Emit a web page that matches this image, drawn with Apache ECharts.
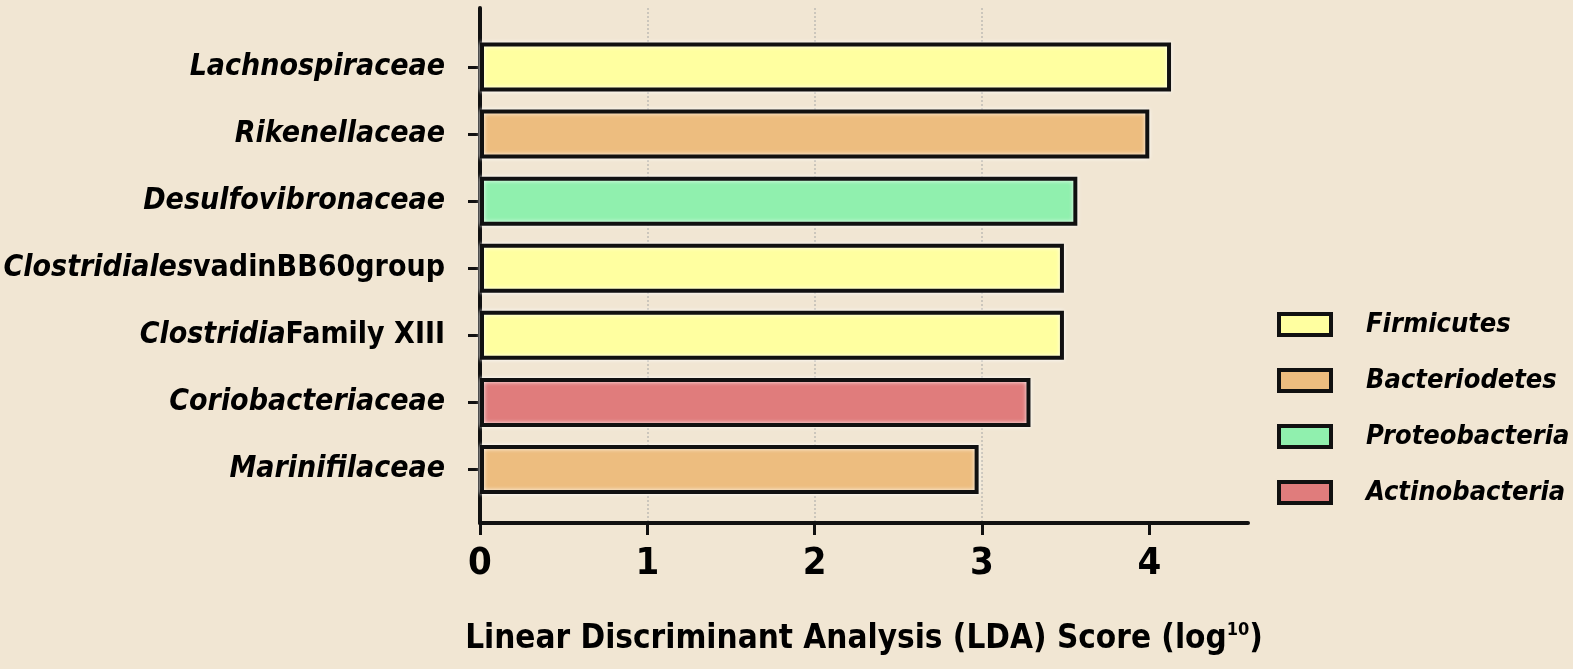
<!DOCTYPE html>
<html>
<head>
<meta charset="UTF-8"/>
<script type="text/javascript" src="https://cdn.jsdelivr.net/npm/echarts@6/dist/echarts.min.js"></script>
<style>
  html, body { margin: 0; padding: 0; background: #f1e6d3; }
  #main { width: 1573px; height: 669px; }
</style>
</head>
<body>
<div id="main"></div>
<script type="text/javascript">
// families, top to bottom
var families = ['Lachnospiraceae', 'Rikenellaceae', 'Desulfovibronaceae',
    'Clostridiales vadinBB60group', 'Clostridia Family XIII', 'Coriobacteriaceae', 'Marinifilaceae'];
// LDA score (log10) per family
var ldaScores = [4.13, 4.0, 3.57, 3.49, 3.49, 3.29, 2.98];
// phylum of each family
var familyPhylum = ['Firmicutes', 'Bacteriodetes', 'Proteobacteria', 'Firmicutes', 'Firmicutes',
    'Actinobacteria', 'Bacteriodetes'];
var phyla = ['Firmicutes', 'Bacteriodetes', 'Proteobacteria', 'Actinobacteria'];
var phylumColors = ['#ffffa0', '#edbd7f', '#90f0ae', '#e07c7c'];
var xTicks = [0, 1, 2, 3, 4];

var FONT = "'Liberation Sans Narrow', 'DejaVu Sans Condensed', sans-serif";

var myChart = echarts.init(document.getElementById('main'));

// one series per phylum so the legend has an entry for each
var series = phyla.map(function (p, k) {
    return {
        name: p,
        type: 'bar',
        stack: 'lda',
        xAxisIndex: 0,
        yAxisIndex: 0,
        barWidth: 49,
        data: ldaScores.map(function (v, i) { return familyPhylum[i] === p ? v : null }),
        itemStyle: {
            color: phylumColors[k],
            borderColor: '#111',
            borderWidth: 4,
            shadowColor: 'rgba(255,255,255,0.9)',
            shadowBlur: 4
        },
        emphasis: { disabled: true }
    }
})

function familyLabel(v) {
    // genus-level part in italics, descriptor upright
    if (v === 'Clostridiales vadinBB60group') return '{i|Clostridiales}{n|vadinBB60group}';
    if (v === 'Clostridia Family XIII') return '{i|Clostridia}{n|Family XIII}';
    return '{i|' + v + '}';
}

var option = {
    backgroundColor: '#f1e6d3',
    animation: false,
    legend: {
        orient: 'vertical',
        left: 1272,
        top: 306,
        itemWidth: 52,
        itemHeight: 21,
        itemGap: 29,
        icon: 'rect',
        data: phyla,
        selectedMode: false,
        itemStyle: { borderColor: '#111', borderWidth: 4 },
        textStyle: {
            fontFamily: FONT, fontSize: 27, fontStyle: 'italic', fontWeight: 'bold',
            color: '#000', lineHeight: 21, padding: [0, 0, 0, 30]
        }
    },
    grid: [
        { left: 480, right: 325, top: 33.5, bottom: 166, outerBoundsMode: 'none' },
        { left: 480, right: 325, top: 8, bottom: 146, outerBoundsMode: 'none' }
    ],
    xAxis: [
        { type: 'value', gridIndex: 0, min: 0, max: 4.59, show: false },
        {
            type: 'value', gridIndex: 1, min: 0, max: 4.59, interval: 1,
            axisLine: { show: true, lineStyle: { color: '#111', width: 4 } },
            axisTick: { show: true, length: 12, customValues: xTicks, lineStyle: { color: '#111', width: 3 } },
            axisLabel: {
                margin: 22, color: '#000', fontFamily: FONT, fontSize: 38, fontWeight: 'bold',
                customValues: xTicks
            },
            splitLine: {
                show: true, showMinLine: false, showMaxLine: false,
                lineStyle: { color: '#cbc6bc', type: 'dotted', width: 2 }
            },
            name: '{a|Linear Discriminant Analysis (LDA) Score (log}{s|10}{a|)}',
            nameLocation: 'middle',
            nameGap: 98,
            nameTextStyle: {
                rich: {
                    a: { fontFamily: FONT, fontSize: 33, fontWeight: 'bold', color: '#000' },
                    s: { fontFamily: FONT, fontSize: 18, fontWeight: 'bold', color: '#000', verticalAlign: 'top', padding: [0, 0, 18, 0] }
                }
            }
        }
    ],
    yAxis: [
        {
            type: 'category', gridIndex: 0, inverse: true, data: families,
            axisLine: { show: false },
            axisTick: { show: true, alignWithLabel: true, length: 12, lineStyle: { color: '#111', width: 3 } },
            axisLabel: {
                margin: 35, formatter: familyLabel,
                rich: {
                    i: { fontFamily: FONT, fontSize: 30, fontStyle: 'italic', fontWeight: 'bold', color: '#000' },
                    n: { fontFamily: FONT, fontSize: 30, fontWeight: 'bold', color: '#000' }
                }
            }
        },
        {
            type: 'value', gridIndex: 1, min: 0, max: 1,
            axisLine: { show: true, lineStyle: { color: '#111', width: 4 } },
            axisTick: { show: false }, axisLabel: { show: false }, splitLine: { show: false }
        }
    ],
    series: series
};

myChart.setOption(option);
</script>
</body>
</html>
